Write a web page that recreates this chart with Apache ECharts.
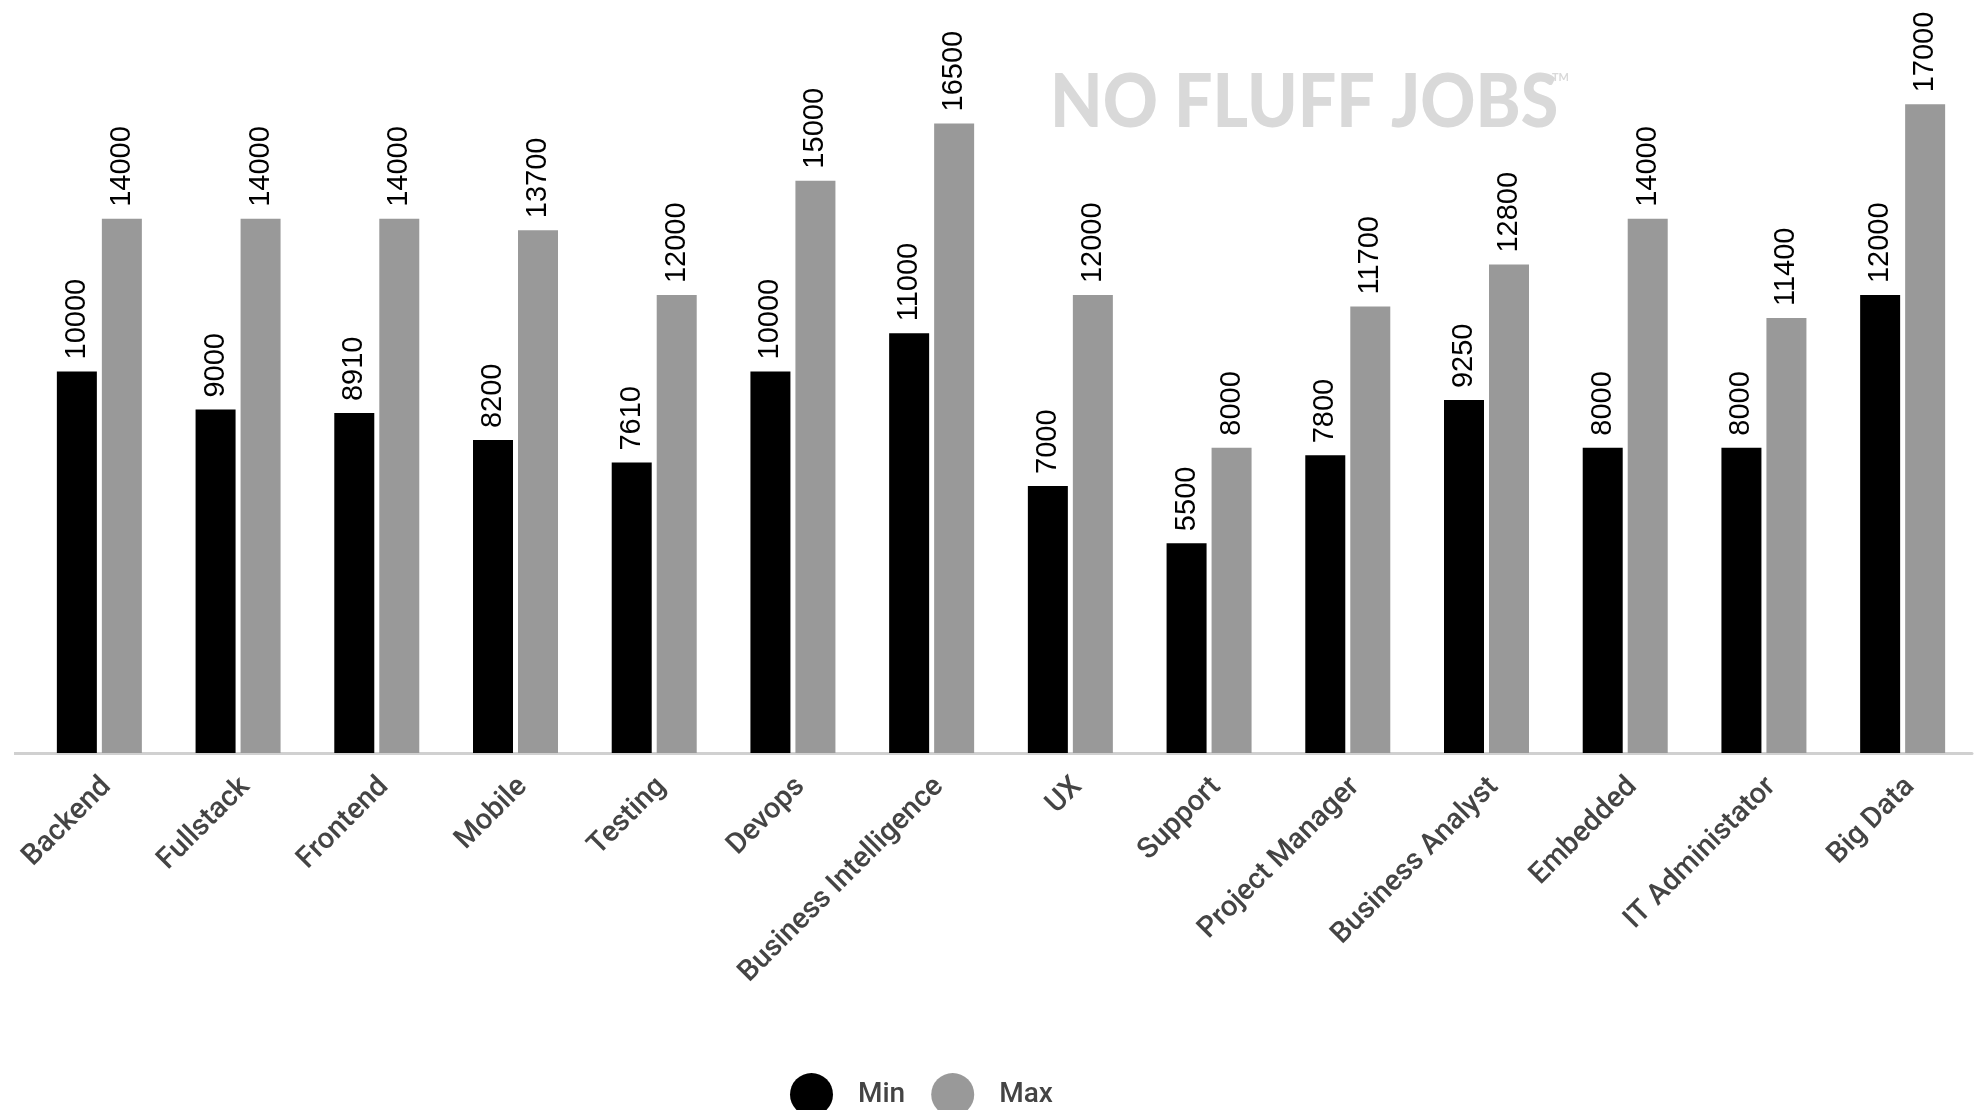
<!DOCTYPE html>
<html><head><meta charset="utf-8">
<script src="https://cdn.jsdelivr.net/npm/echarts@6/dist/echarts.min.js"></script>
<style>html,body{margin:0;padding:0;background:#fff}#c{width:1977px;height:1110px}</style>
</head><body><div id="c"></div>
<script>
const categories = ['Backend','Fullstack','Frontend','Mobile','Testing','Devops','Business Intelligence','UX','Support','Project Manager','Business Analyst','Embedded','IT Administator','Big Data'];
const minValues = [10000,9000,8910,8200,7610,10000,11000,7000,5500,7800,9250,8000,8000,12000];
const maxValues = [14000,14000,14000,13700,12000,15000,16500,12000,8000,11700,12800,14000,11400,17000];
const seriesNames = ['Min','Max'];

const chart = echarts.init(document.getElementById('c'), null, {renderer:'canvas'});
const valLabel = {show:true, position:'top', rotate:90, align:'left', verticalAlign:'middle', distance:12,
  fontFamily:'Liberation Sans, Arial, sans-serif', fontSize:29, color:'#000'};
chart.setOption({
  backgroundColor:'#ffffff',
  animation:false,
  grid:{left:30, right:5, top:28, bottom:357, containLabel:false},
  graphic:[
    {type:'text', left:1050, top:66, z:0, scaleX:0.92, style:{text:'NO FLUFF JOBS', font:'900 74px Lato, sans-serif', fill:'#d9d9d9'}},
    {type:'text', left:1552, top:72, z:0, style:{text:'TM', font:'700 11px Lato, sans-serif', fill:'#d9d9d9'}},
    {type:'line', z:0, shape:{x1:14, y1:753.5, x2:31, y2:753.5}, style:{stroke:'#d0d0d0', lineWidth:3}}
  ],
  legend:{left:785, top:1068, itemWidth:43, itemHeight:43, itemGap:26, icon:'circle',
    textStyle:{fontFamily:'Roboto, sans-serif', fontWeight:500, fontSize:28, color:'#444', padding:[0,0,0,20]},
    data:seriesNames},
  xAxis:{type:'category', data:categories,
    axisLine:{lineStyle:{color:'#d0d0d0', width:3}}, axisTick:{show:false},
    axisLabel:{rotate:45, margin:22, interval:0, verticalAlign:'top', lineHeight:21,
      fontFamily:'Roboto, sans-serif', fontWeight:500, fontSize:29, color:'#444'}},
  yAxis:{type:'value', min:0, max:19000, show:false, splitLine:{show:false}},
  series:[
    {name:seriesNames[0], type:'bar', data:minValues, barWidth:40, barGap:'12.5%', itemStyle:{color:'#000000'}, label:valLabel},
    {name:seriesNames[1], type:'bar', data:maxValues, barWidth:40, barGap:'12.5%', itemStyle:{color:'#999999'}, label:valLabel}
  ]
});
</script></body></html>
